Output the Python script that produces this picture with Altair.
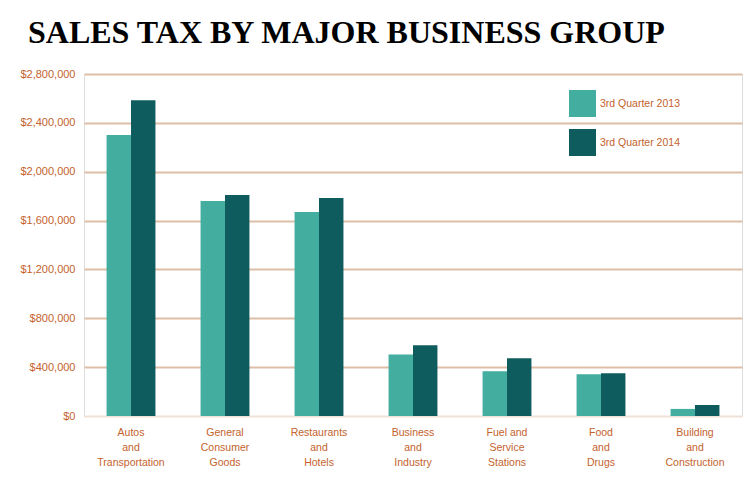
import altair as alt
import pandas as pd

categories = [
    "Autos\nand\nTransportation",
    "General\nConsumer\nGoods",
    "Restaurants\nand\nHotels",
    "Business\nand\nIndustry",
    "Fuel and\nService\nStations",
    "Food\nand\nDrugs",
    "Building\nand\nConstruction",
]
series = ["3rd Quarter 2013", "3rd Quarter 2014"]
q3_2013 = [2300000, 1760000, 1670000, 504000, 367000, 342000, 58000]
q3_2014 = [2585000, 1810000, 1785000, 579000, 472000, 351000, 90000]
colors = ["#43ad9f", "#0f5c5e"]
title_text = "SALES TAX BY MAJOR BUSINESS GROUP"

rows = []
for c, a, b in zip(categories, q3_2013, q3_2014):
    rows.append({"cat": c, "series": series[0], "value": a})
    rows.append({"cat": c, "series": series[1], "value": b})
df = pd.DataFrame(rows)

orange = "#c4622d"
lab_font = "Liberation Sans"

bars = alt.Chart(df).mark_bar().encode(
    x=alt.X("cat:N", sort=categories, title=None,
            scale=alt.Scale(paddingInner=0.48, paddingOuter=0.24),
            axis=alt.Axis(labelExpr="split(datum.label, '\\n')", labelAngle=0,
                          domain=False, ticks=False, labelPadding=11,
                          labelBaseline="top", labelLineHeight=15,
                          labelFont=lab_font, labelFontSize=10.5,
                          labelColor=orange)),
    xOffset=alt.XOffset("series:N", sort=series),
    y=alt.Y("value:Q", title=None,
            scale=alt.Scale(domain=[0, 2800000], nice=False),
            axis=alt.Axis(values=[i * 400000 for i in range(8)], format="$,.0f",
                          domain=False, ticks=False, labelPadding=9,
                          labelFont=lab_font, labelFontSize=11,
                          labelColor=orange,
                          gridColor=alt.condition("datum.value === 0", alt.value("#f2e1d6"), alt.value("#dfbea8")),
                          gridWidth=2.2)),
    color=alt.Color("series:N", sort=series,
                    scale=alt.Scale(domain=series, range=colors),
                    legend=alt.Legend(title=None, orient="none", legendX=485, legendY=16,
                                      symbolType="square", symbolSize=729,
                                      symbolStrokeWidth=0, symbolOpacity=1,
                                      labelFont=lab_font, labelFontSize=10.5,
                                      labelColor=orange, labelOffset=4,
                                      rowPadding=12, padding=0)),
)

title = alt.Chart(pd.DataFrame({"t": [title_text]})).mark_text(
    font="Liberation Serif", fontSize=32, fontWeight="bold", color="#000000",
    align="left", baseline="alphabetic",
).encode(x=alt.value(-56), y=alt.value(-31), text="t:N")

chart = alt.layer(bars, title).properties(
    width=658,
    height=342,
    padding={"left": 76, "top": 66, "right": 5, "bottom": 70},
    autosize=alt.AutoSizeParams(type="none"),
).configure_view(stroke=None).configure(background="white")

chart.save("out.html", embed_options={"renderer": "svg", "actions": False})
